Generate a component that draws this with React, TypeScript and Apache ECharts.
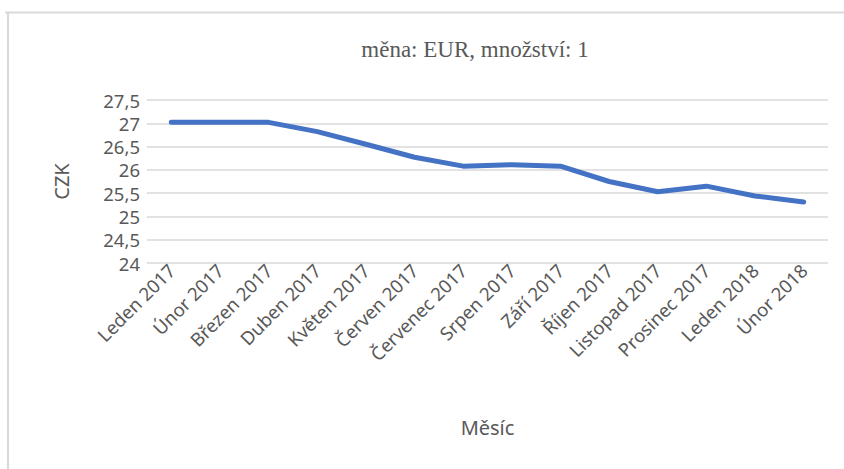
import React, { useEffect, useRef } from "react";
import * as echarts from "echarts";

const categories = [
  "Leden 2017", "Únor 2017", "Březen 2017", "Duben 2017", "Květen 2017", "Červen 2017",
  "Červenec 2017", "Srpen 2017", "Září 2017", "Říjen 2017", "Listopad 2017", "Prosinec 2017",
  "Leden 2018", "Únor 2018",
];
const rates = [27.02, 27.02, 27.02, 26.82, 26.55, 26.27, 26.08, 26.11, 26.08, 25.75, 25.53, 25.65, 25.44, 25.31];
const titleText = "měna: EUR, množství: 1";
const yName = "CZK";
const xName = "Měsíc";

export default function App() {
  const ref = useRef<HTMLDivElement>(null);
  useEffect(() => {
    document.body.style.margin = "0";
    const chart = echarts.init(ref.current!, null, { renderer: "svg" });
    const labelFont = "'Noto Sans', 'Open Sans', sans-serif";
    chart.setOption({
      animation: false,
      backgroundColor: "#ffffff",
      title: {
        text: titleText,
        left: 470,
        top: 33,
        textAlign: "center",
        textStyle: { fontFamily: "'Liberation Serif', serif", fontSize: 23, fontWeight: "normal", color: "#595959" },
      },
      graphic: [
        { type: "line", shape: { x1: 5, y1: 12.5, x2: 844, y2: 12.5 }, style: { stroke: "#d9d9d9", lineWidth: 2 } },
        { type: "line", shape: { x1: 8, y1: 12, x2: 8, y2: 469 }, style: { stroke: "#d9d9d9", lineWidth: 2 } },
      ],
      grid: { left: 147, right: 16, top: 100, bottom: 206, containLabel: false },
      xAxis: {
        type: "category",
        data: categories,
        boundaryGap: true,
        name: xName,
        nameLocation: "middle",
        nameGap: 154,
        nameTextStyle: { fontFamily: labelFont, fontSize: 20, color: "#595959" },
        axisLine: { show: false },
        axisTick: { show: false },
        axisLabel: { rotate: 45, interval: 0, margin: 4, fontFamily: labelFont, fontSize: 18.5, color: "#595959" },
      },
      yAxis: {
        type: "value",
        min: 24,
        max: 27.5,
        interval: 0.5,
        name: yName,
        nameLocation: "middle",
        nameGap: 76,
        nameRotate: 90,
        nameTextStyle: { fontFamily: labelFont, fontSize: 20, color: "#595959" },
        axisLine: { show: false },
        axisTick: { show: false },
        axisLabel: {
          margin: 7,
          fontFamily: labelFont,
          fontSize: 18.5,
          color: "#595959",
          formatter: (v: number) => String(v).replace(".", ","),
        },
        splitLine: { lineStyle: { color: "#d9d9d9", width: 1.5 } },
      },
      series: [
        {
          type: "line",
          data: rates,
          symbol: "none",
          lineStyle: { color: "#4472c4", width: 5, cap: "round", join: "round" },
        },
      ],
    });
    return () => chart.dispose();
  }, []);
  return <div ref={ref} style={{ width: 844, height: 469 }} />;
}
